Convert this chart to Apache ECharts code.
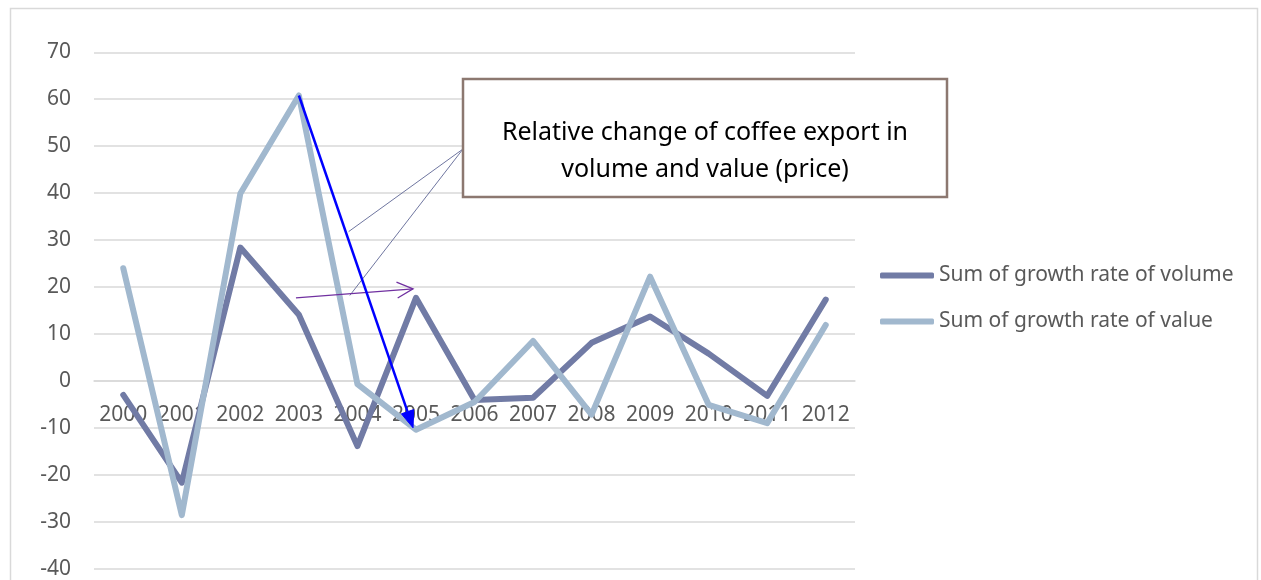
<!DOCTYPE html>
<html>
<head>
<meta charset="utf-8">
<script src="https://cdn.jsdelivr.net/npm/echarts@6/dist/echarts.min.js"></script>
<style>
  html, body { margin: 0; padding: 0; background: #ffffff; }
  #chart { width: 1261px; height: 580px; }
</style>
</head>
<body>
<div id="chart"></div>
<script>
// Coffee export: yearly growth rates (%) of volume and value
const years = ['2000', '2001', '2002', '2003', '2004', '2005', '2006',
               '2007', '2008', '2009', '2010', '2011', '2012'];
const volumeGrowth = [-3, -21.7, 28.4, 14.1, -13.9, 17.7, -4.1, -3.6, 8.1, 13.7, 5.8, -3.2, 17.3];
const valueGrowth  = [24, -28.6, 39.9, 60.8, -0.7, -10.4, -4.5, 8.5, -7.2, 22.2, -5.1, -9, 11.9];
const yTicks = { min: -40, max: 70, step: 10 };

const seriesNames = ['Sum of growth rate of volume', 'Sum of growth rate of value'];
const calloutLines = ['Relative change of coffee export in', 'volume and value (price)'];

const FONT = 'Noto Sans';
const TEXT = '#595959';
const GRID = '#d9d9d9';
const DARK = '#717ba5';
const LIGHT = '#a1b8ce';

const W = 1261, H = 580;
const gridBox = { left: 94, right: 406, top: 52.3, bottom: 11.4 };
const plotH = H - gridBox.top - gridBox.bottom;
// category labels sit just under the zero line, as in a chart whose axis crosses at 0
const zeroOffset = -plotH * (0 - yTicks.min) / (yTicks.max - yTicks.min);

const chart = echarts.init(document.getElementById('chart'), null, { renderer: 'canvas' });

chart.setOption({
  animation: false,
  backgroundColor: '#ffffff',
  grid: Object.assign({ containLabel: false, outerBoundsMode: 'none' }, gridBox),
  legend: {
    orient: 'vertical',
    left: 880,
    top: 265,
    padding: 0,
    itemWidth: 54,
    itemHeight: 6,
    itemGap: 25,
    icon: 'roundRect',
    textStyle: { fontFamily: FONT, fontSize: 21, color: TEXT },
    data: seriesNames
  },
  xAxis: {
    type: 'category',
    data: years,
    boundaryGap: true,
    position: 'bottom',
    offset: zeroOffset,
    axisLine: { show: true, onZero: false, lineStyle: { color: GRID, width: 1.5 } },
    axisTick: { show: false },
    axisLabel: { fontFamily: FONT, fontSize: 21, color: TEXT, margin: 24, interval: 0 },
    splitLine: { show: false }
  },
  yAxis: {
    type: 'value',
    min: yTicks.min,
    max: yTicks.max,
    interval: yTicks.step,
    axisLine: { show: false },
    axisTick: { show: false },
    axisLabel: { fontFamily: FONT, fontSize: 21, color: TEXT, margin: 23 },
    splitLine: { lineStyle: { color: GRID, width: 1.5 } }
  },
  series: [
    {
      name: seriesNames[0],
      type: 'line',
      data: volumeGrowth,
      showSymbol: false,
      symbol: 'none',
      color: DARK,
      lineStyle: { width: 6, color: DARK, cap: 'round', join: 'round' },
      z: 2
    },
    {
      name: seriesNames[1],
      type: 'line',
      data: valueGrowth,
      showSymbol: false,
      symbol: 'none',
      color: LIGHT,
      lineStyle: { width: 6, color: LIGHT, cap: 'round', join: 'round' },
      z: 3
    }
  ]
});

// Map a (category index, value) pair onto the grid; fractional indices are interpolated
function toPx(idx, val) {
  const a = chart.convertToPixel({ gridIndex: 0 }, [0, 0]);
  const b = chart.convertToPixel({ gridIndex: 0 }, [1, 10]);
  return [a[0] + idx * (b[0] - a[0]), a[1] + val * (b[1] - a[1]) / 10];
}

// Callout arrows, anchored in data space
const blueFrom = toPx(3, 60.8);
const blueTo = toPx(4.95, -10.0);
const purpleFrom = toPx(2.95, 17.7);
const purpleTo = toPx(4.95, 19.6);
const pointerA = toPx(3.85, 31.8);
const pointerB = toPx(3.87, 18.2);

function headPoints(from, to, len, half) {
  const dx = to[0] - from[0], dy = to[1] - from[1];
  const d = Math.hypot(dx, dy);
  const ux = dx / d, uy = dy / d;
  const bx = to[0] - ux * len, by = to[1] - uy * len;
  return [[bx - uy * half, by + ux * half], to, [bx + uy * half, by - ux * half]];
}

const blueHead = headPoints(blueFrom, blueTo, 17, 6.5);
const blueShaftEnd = [(blueHead[0][0] + blueHead[2][0]) / 2, (blueHead[0][1] + blueHead[2][1]) / 2];
const purpleHead = headPoints(purpleFrom, purpleTo, 16, 8);

const box = { x: 463, y: 79, w: 484, h: 118 };
const anchor = [box.x, 149];
const calloutFont = '25px "' + FONT + '"';

chart.setOption({
  graphic: [
    // outer frame
    { type: 'rect', shape: { x: 10.5, y: 8.5, width: 1247, height: 600 },
      style: { fill: 'none', stroke: '#d9d9d9', lineWidth: 1.5 }, silent: true, z: 0 },
    // pointers from the callout box
    { type: 'line', shape: { x1: anchor[0], y1: anchor[1], x2: pointerA[0], y2: pointerA[1] },
      style: { stroke: '#6f76a0', lineWidth: 1 }, z: 20 },
    { type: 'line', shape: { x1: anchor[0], y1: anchor[1], x2: pointerB[0], y2: pointerB[1] },
      style: { stroke: '#6f76a0', lineWidth: 1 }, z: 20 },
    // purple open arrow
    { type: 'line', shape: { x1: purpleFrom[0], y1: purpleFrom[1], x2: purpleTo[0], y2: purpleTo[1] },
      style: { stroke: '#7030a0', lineWidth: 1.3 }, z: 20 },
    { type: 'polyline', shape: { points: purpleHead },
      style: { stroke: '#7030a0', lineWidth: 1.3, fill: 'none' }, z: 20 },
    // blue filled arrow
    { type: 'line', shape: { x1: blueFrom[0], y1: blueFrom[1], x2: blueShaftEnd[0], y2: blueShaftEnd[1] },
      style: { stroke: '#0000ff', lineWidth: 2.5 }, z: 21 },
    { type: 'polygon', shape: { points: blueHead },
      style: { fill: '#0000ff', stroke: '#0000ff', lineWidth: 1 }, z: 21 },
    // callout box
    { type: 'rect', shape: { x: box.x, y: box.y, width: box.w, height: box.h },
      style: { fill: '#ffffff', stroke: '#8c7870', lineWidth: 2.5 }, z: 22 },
    { type: 'text', x: box.x + box.w / 2, y: 133, z: 23,
      style: { text: calloutLines[0], font: calloutFont, fill: '#000000',
               align: 'center', verticalAlign: 'middle' } },
    { type: 'text', x: box.x + box.w / 2, y: 170, z: 23,
      style: { text: calloutLines[1], font: calloutFont, fill: '#000000',
               align: 'center', verticalAlign: 'middle' } }
  ]
});
</script>
</body>
</html>
